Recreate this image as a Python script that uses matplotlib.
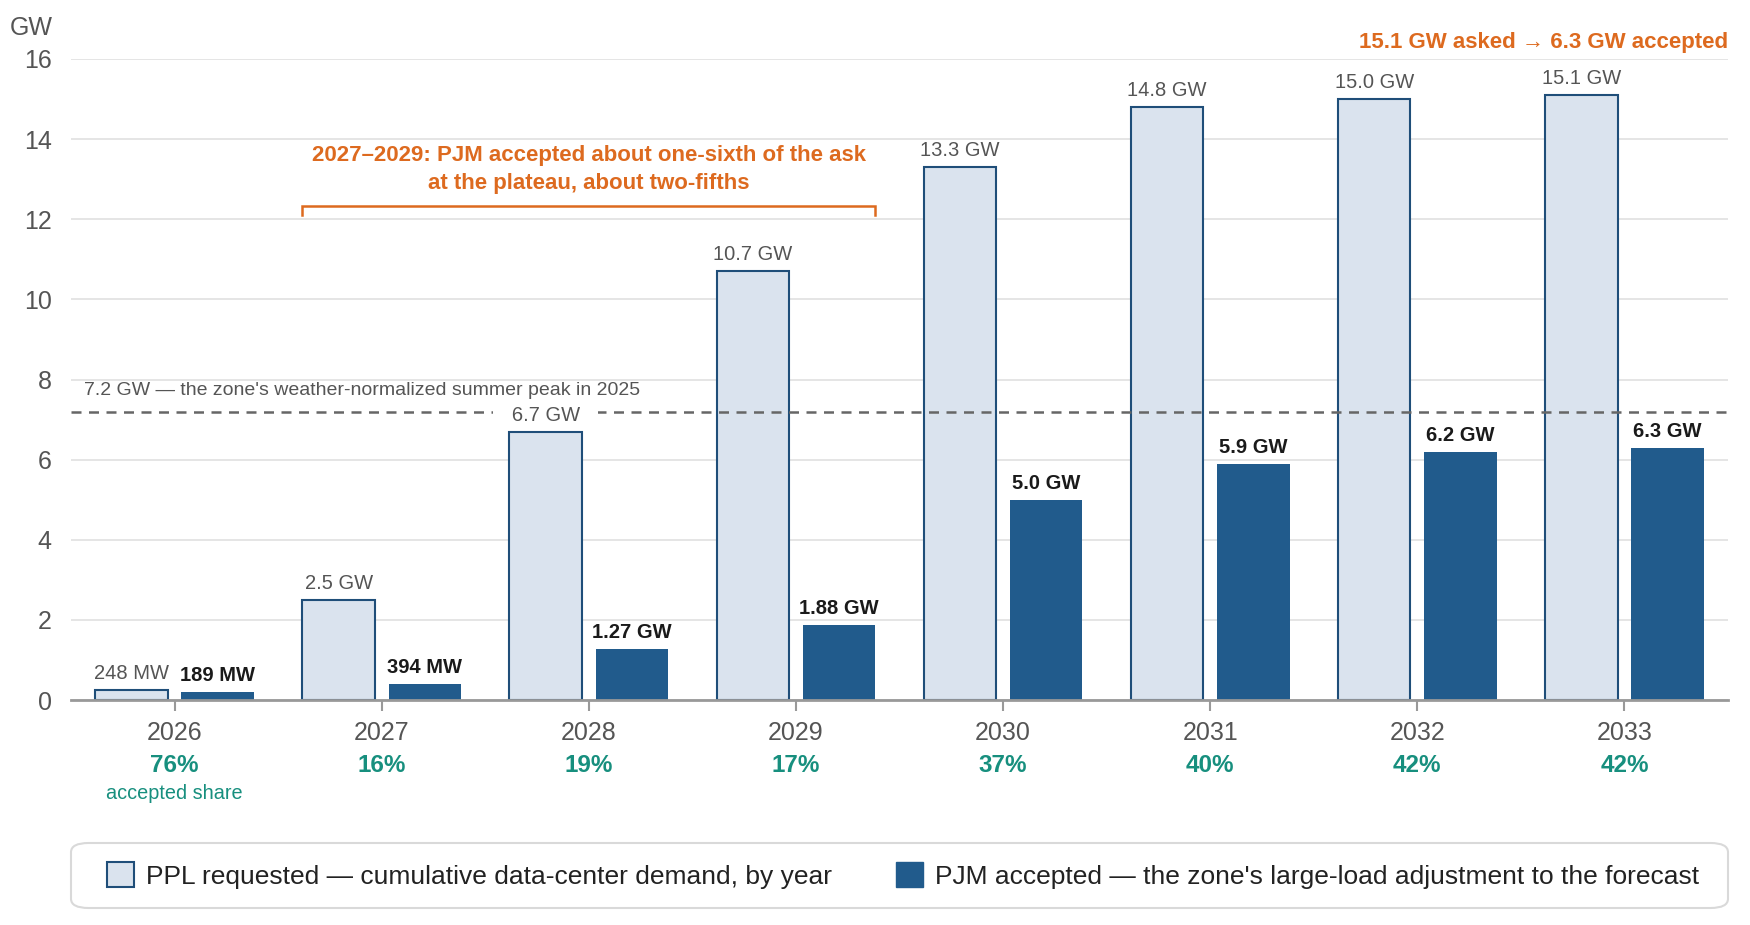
import numpy as np
import matplotlib
matplotlib.use("Agg")
import matplotlib.pyplot as plt
from matplotlib.patches import Patch, FancyBboxPatch

plt.rcParams['font.family'] = ['Liberation Sans', 'DejaVu Sans']

# data
years = ["2026", "2027", "2028", "2029", "2030", "2031", "2032", "2033"]
requested = [0.248, 2.5, 6.7, 10.7, 13.3, 14.8, 15.0, 15.1]
accepted = [0.189, 0.394, 1.27, 1.88, 5.0, 5.9, 6.2, 6.3]
requested_labels = ["248 MW", "2.5 GW", "6.7 GW", "10.7 GW", "13.3 GW", "14.8 GW", "15.0 GW", "15.1 GW"]
accepted_labels = ["189 MW", "394 MW", "1.27 GW", "1.88 GW", "5.0 GW", "5.9 GW", "6.2 GW", "6.3 GW"]
share_labels = ["76%", "16%", "19%", "17%", "37%", "40%", "42%", "42%"]
peak_2025 = 7.2

REQ_FILL = "#dae3ee"
REQ_EDGE = "#1f4e79"
ACC_FILL = "#215b8c"
ORANGE = "#dd6a1f"
TEAL = "#178f7e"
GRAY = "#555555"

fig = plt.figure(figsize=(17.5, 9.25), dpi=100)
ax = fig.add_axes([71 / 1750, 1 - 700 / 925, (1728 - 71) / 1750, 641 / 925])

x = np.arange(len(years))
w = 0.35
off = 0.208

ax.bar(x - off, requested, w, color=REQ_FILL, edgecolor=REQ_EDGE, linewidth=1.5, zorder=2)
ax.bar(x + off, accepted, w, color=ACC_FILL, edgecolor=ACC_FILL, linewidth=0, zorder=2)

ax.set_xlim(-0.5, len(years) - 0.5)
ax.set_ylim(0, 16)
ax.set_yticks(range(0, 17, 2))
ax.tick_params(axis='y', length=0, labelsize=18, labelcolor=GRAY, pad=14)
ax.set_xticks(x)
ax.set_xticklabels([])
ax.tick_params(axis='x', length=8, width=1.5, color="#999999")
ax.grid(axis='y', color="#e0e0e0", linewidth=1.2, zorder=0)
ax.set_axisbelow(True)
for s in ["top", "right", "left"]:
    ax.spines[s].set_visible(False)
ax.spines["bottom"].set_color("#999999")
ax.spines["bottom"].set_linewidth(2)
ax.spines["bottom"].set_zorder(3)

ax.text(-0.011, 1.048, "GW", transform=ax.transAxes, ha='right', va='center',
        fontsize=18, color=GRAY)

# value labels
for i in range(len(years)):
    lab = requested_labels[i]
    if lab == "6.7 GW":
        lab = "   " + lab + "   "
    t = ax.annotate(lab, (x[i] - off, requested[i]), xytext=(0, 5),
                    textcoords='offset points', ha='center', va='bottom',
                    fontsize=14.5, color=GRAY, zorder=5)
    if requested_labels[i] == "6.7 GW":
        t.set_bbox(dict(facecolor='white', edgecolor='none', pad=1))
    ax.annotate(accepted_labels[i], (x[i] + off, accepted[i]), xytext=(0, 5),
                textcoords='offset points', ha='center', va='bottom',
                fontsize=14.5, color="#1a1a1a", fontweight='bold', zorder=5)

# category labels and accepted share
tr = ax.get_xaxis_transform()
for i in range(len(years)):
    ax.text(x[i], -0.0515, years[i], transform=tr, ha='center', va='center',
            fontsize=18, color=GRAY)
    ax.text(x[i], -0.1015, share_labels[i], transform=tr, ha='center', va='center',
            fontsize=17.5, color=TEAL, fontweight='bold')
ax.text(x[0], -0.146, "accepted share", transform=tr, ha='center', va='center',
        fontsize=14.3, color=TEAL)

# 2025 peak reference line
ax.axhline(peak_2025, color="#666666", linestyle=(0, (4, 3)), linewidth=1.8, zorder=3)
ax.text(-0.435, 7.72, "7.2 GW \u2014 the zone's weather-normalized summer peak in 2025",
        ha='left', va='center', fontsize=14, color=GRAY, zorder=4)

# bracket over 2027-2029
bx0 = x[1] - off - w / 2
bx1 = x[3] + off + w / 2
ax.plot([bx0, bx0, bx1, bx1], [12.1, 12.32, 12.32, 12.1], color=ORANGE, linewidth=1.8,
        zorder=4, solid_joinstyle='miter')
ax.text((bx0 + bx1) / 2, 13.24,
        "2027\u20132029: PJM accepted about one-sixth of the ask\nat the plateau, about two-fifths",
        ha='center', va='center', fontsize=16, color=ORANGE, fontweight='bold',
        linespacing=1.42)

ax.text(1.0, 1.025, "15.1 GW asked \u2192 6.3 GW accepted", transform=ax.transAxes,
        ha='right', va='center', fontsize=16, color=ORANGE, fontweight='bold')

# legend box
box = FancyBboxPatch((71 / 1750, 1 - 908 / 925), (1728 - 71) / 1750, 65 / 925,
                     boxstyle="round,pad=0,rounding_size=0.01", transform=fig.transFigure,
                     facecolor='white', edgecolor="#d9d9d9", linewidth=1.5)
fig.patches.append(box)
handles = [Patch(facecolor=REQ_FILL, edgecolor=REQ_EDGE, linewidth=1.5),
           Patch(facecolor=ACC_FILL, edgecolor=ACC_FILL)]
labels = ["PPL requested \u2014 cumulative data-center demand, by year",
          "PJM accepted \u2014 the zone's large-load adjustment to the forecast"]
fig.legend(handles, labels, loc='center', bbox_to_anchor=((71 + 1728) / 2 / 1750 + 0.002, 1 - 875.5 / 925),
           ncol=2, frameon=False, fontsize=19, handlelength=1.05, handleheight=1.05,
           handletextpad=0.45, columnspacing=2.4, labelcolor="#222222")

fig.savefig("out.png", dpi=100)
